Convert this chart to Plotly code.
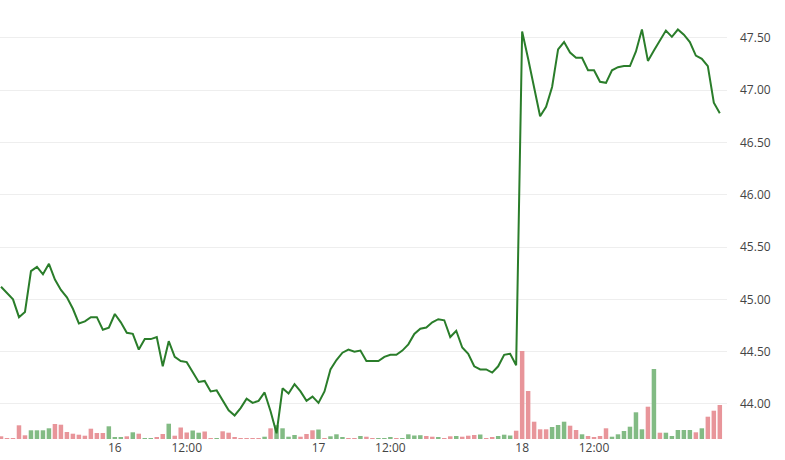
import plotly.graph_objects as go

# 30-minute bars, 06:00-22:30 each day; first bars are the tail of day 15
PRICE = [
    45.12, 45.06, 45.00, 44.83, 44.88, 45.27, 45.31, 45.24, 45.34, 45.19,
    45.09, 45.02, 44.91, 44.77, 44.79, 44.83, 44.83, 44.71, 44.73, 44.86,
    44.78, 44.68, 44.67, 44.52, 44.62, 44.62, 44.64, 44.36, 44.60, 44.45,
    44.41, 44.40, 44.31, 44.21, 44.22, 44.12, 44.13, 44.04, 43.94, 43.89,
    43.96, 44.05, 44.01, 44.03, 44.11, 43.93, 43.72, 44.15, 44.10, 44.19,
    44.12, 44.03, 44.07, 44.01, 44.12, 44.33, 44.42, 44.49, 44.52, 44.50,
    44.51, 44.41, 44.41, 44.41, 44.45, 44.47, 44.47, 44.51, 44.57, 44.67,
    44.72, 44.73, 44.78, 44.81, 44.80, 44.64, 44.70, 44.54, 44.48, 44.36,
    44.33, 44.33, 44.30, 44.36, 44.47, 44.48, 44.37, 47.56, 47.30, 47.03,
    46.75, 46.84, 47.03, 47.39, 47.46, 47.36, 47.31, 47.31, 47.19, 47.19,
    47.08, 47.07, 47.19, 47.22, 47.23, 47.23, 47.37, 47.58, 47.28, 47.38,
    47.48, 47.57, 47.51, 47.58, 47.53, 47.46, 47.33, 47.30, 47.23, 46.88,
    46.78,
]

VOLUME = [
    2700, 1000, 500, 13700, 3700, 8700, 8700, 8700, 10700, 15000,
    14300, 7000, 5300, 4300, 3300, 10300, 6000, 6000, 12700, 1300,
    1500, 2700, 6700, 5300, 700, 400, 1300, 5000, 15300, 3300,
    11500, 6500, 8500, 6300, 7500, 1000, 500, 7700, 6300, 2000,
    1000, 500, 500, 700, 2300, 10700, 13800, 10700, 2300, 4000,
    2300, 5000, 8700, 9500, 500, 2700, 4700, 1700, 500, 500,
    3000, 2300, 500, 500, 700, 1500, 500, 500, 4700, 3500,
    3800, 3000, 2300, 1700, 500, 2700, 3000, 2300, 3300, 4000,
    4500, 500, 1700, 3000, 4300, 3500, 8300, 88000, 48000, 17300,
    9700, 9700, 12000, 14000, 17300, 13300, 9000, 4700, 3000, 2000,
    3000, 10700, 2300, 4700, 8000, 12300, 26700, 9700, 32300, 70000,
    6300, 6300, 3000, 9000, 9000, 9000, 6700, 10700, 22300, 28300,
    34000,
]

# u = up bar (green), d = down bar (red), one letter per bar
VOL_DIR = list(
    "ddddduuuud"
    "dddddddduu"
    "ududuuddud"
    "dduudduddd"
    "dddduduuuu"
    "ddduduuudd"
    "udduuuduuu"
    "uddudduddd"
    "udduuudddd"
    "dduuuddudd"
    "dduuuuuudu"
    "duuuuududd"
    "d"
)

TICK_POS = [19, 31, 53, 65, 87, 99]
TICK_TEXT = ["16", "12:00", "17", "12:00", "18", "12:00"]
PRICE_TICKS = [44.0, 44.5, 45.0, 45.5, 46.0, 46.5, 47.0, 47.5]

GREEN_VOL = "#82bb84"
RED_VOL = "#e8959a"
LINE = "#2a7d2a"
FONT = "Open Sans, sans-serif"

x = list(range(len(PRICE)))
bar_colors = [GREEN_VOL if d == "u" else RED_VOL for d in VOL_DIR]

fig = go.Figure()
fig.add_trace(go.Bar(x=x, y=VOLUME, marker=dict(color=bar_colors, line_width=0),
                     yaxis="y", showlegend=False))
fig.add_trace(go.Scatter(x=x, y=PRICE, mode="lines", line=dict(color=LINE, width=2),
                         yaxis="y2", showlegend=False))

fig.update_layout(
    width=785, height=460,
    margin=dict(l=0, r=58, t=0, b=21),
    paper_bgcolor="white", plot_bgcolor="white",
    font=dict(family=FONT, size=12, color="#444"),
    bargap=0.25,
    xaxis=dict(range=[-0.17, 121.2], tickvals=TICK_POS, ticktext=TICK_TEXT,
               showgrid=False, zeroline=False, showline=False, ticks=""),
    yaxis=dict(range=[0, 439000], visible=False, showgrid=False),
    yaxis2=dict(range=[43.665, 47.862], overlaying="y", side="right",
                tickvals=PRICE_TICKS, tickformat=".2f",
                showgrid=True, gridcolor="#eeeeee", gridwidth=1,
                zeroline=False, showline=False, ticks="",
                ticklabelstandoff=12),
)

# page margin off so the chart sits flush in the window; no modebar
fig.write_html("out.html", config={"displayModeBar": False},
               post_script="document.body.style.margin='0';")
